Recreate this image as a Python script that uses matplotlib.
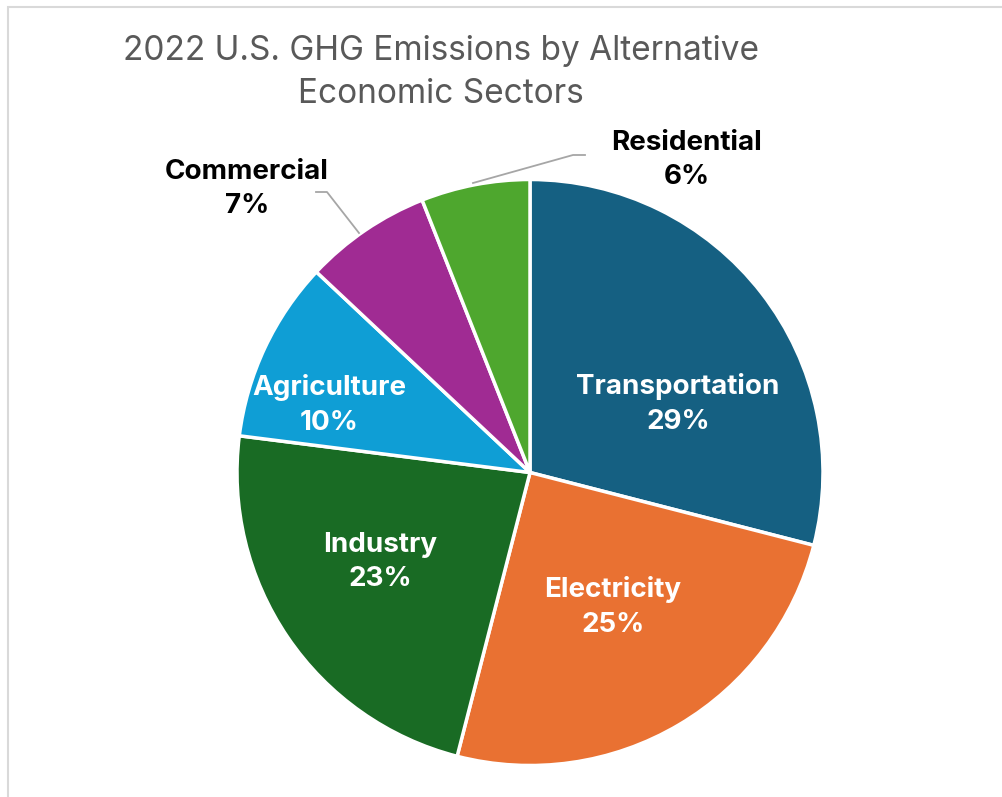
import matplotlib
matplotlib.use("Agg")
import matplotlib.pyplot as plt
from matplotlib.patches import Rectangle

plt.rcParams['font.family'] = ['Inter', 'DejaVu Sans']

# Share of 2022 U.S. greenhouse gas emissions by sector (percent)
sectors = ["Transportation", "Electricity", "Industry", "Agriculture", "Commercial", "Residential"]
shares = [29, 25, 23, 10, 7, 6]
colors = ["#156082", "#E97132", "#196B24", "#0F9ED5", "#A02B93", "#4EA72E"]
title = "2022 U.S. GHG Emissions by Alternative\nEconomic Sectors"

W, H = 1002, 797
fig = plt.figure(figsize=(W / 100, H / 100), dpi=100)
ax = fig.add_axes([0, 0, 1, 1])

# chart area frame (only top and left edges fall inside the canvas)
ax.add_patch(Rectangle((8, -20), W + 40, H - 7 + 20, fill=False,
                       edgecolor="#D9D9D9", linewidth=1.5))

cx, cy, r = 530, H - 472.5, 293
wedges, _ = ax.pie(shares, startangle=90, counterclock=False, colors=colors,
                   center=(cx, cy), radius=r, frame=True,
                   wedgeprops=dict(edgecolor="white", linewidth=2.5))
ax.set_xlim(0, W)
ax.set_ylim(0, H)
ax.set_aspect("equal")
ax.axis("off")

fig.text(441 / W, 1 - 72.5 / H, title, ha="center", va="center",
         fontsize=24, color="#595959", linespacing=1.45)

label_pos = {
    "Transportation": (678, 404, "white"),
    "Electricity": (613, 607, "white"),
    "Industry": (380, 562, "white"),
    "Agriculture": (329, 405, "white"),
    "Commercial": (247, 189, "black"),
    "Residential": (687, 160, "black"),
}
for name, val in zip(sectors, shares):
    x, y, c = label_pos[name]
    ax.text(x, H - y, f"{name}\n{val}%", ha="center", va="center",
            fontsize=20, fontweight="bold", color=c, linespacing=1.42)

# leader lines for the small outside labels
lc = "#A6A6A6"
ax.plot([359, 327, 316], [H - 233, H - 192, H - 192], color=lc, lw=1.3)
ax.plot([473, 573, 585], [H - 183, H - 155, H - 155], color=lc, lw=1.3)

fig.savefig("out.png", dpi=100, facecolor="white")
